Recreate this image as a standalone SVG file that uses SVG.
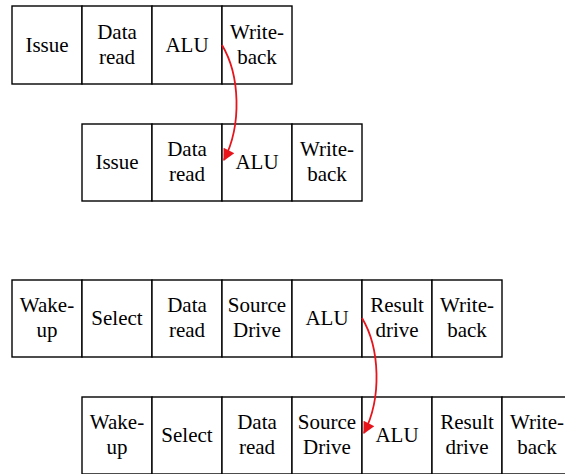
<svg xmlns="http://www.w3.org/2000/svg" width="565" height="474" viewBox="0 0 565 474">
<style>
.b{fill:#fff;stroke:#000;stroke-width:1.4}
text{font-family:'Liberation Serif','Times New Roman',serif;font-size:21px;fill:#000;text-anchor:middle}
.a{fill:none;stroke:#e8141c;stroke-width:1.8}
</style>
<defs>
<marker id="ah" viewBox="0 0 10 10" refX="9" refY="5" markerWidth="14" markerHeight="12" orient="auto" markerUnits="userSpaceOnUse">
<path d="M0,0 L10,5 L0,10 z" fill="#e8141c"/>
</marker>
</defs>
<rect width="565" height="474" fill="#fff"/>
<g id="row1">
<g id="r1-issue"><rect class="b" x="12" y="6" width="70" height="78"/><text x="47" y="52">Issue</text></g>
<g id="r1-dataread"><rect class="b" x="82" y="6" width="70" height="78"/><text x="117" y="38.5">Data</text><text x="117" y="64">read</text></g>
<g id="r1-alu"><rect class="b" x="152" y="6" width="70" height="78"/><text x="187" y="52">ALU</text></g>
<g id="r1-writeback"><rect class="b" x="222" y="6" width="70" height="78"/><text x="257" y="38.5">Write-</text><text x="257" y="64">back</text></g>
</g>
<g id="row2">
<g id="r2-issue"><rect class="b" x="82" y="124" width="70" height="77"/><text x="117" y="169">Issue</text></g>
<g id="r2-dataread"><rect class="b" x="152" y="124" width="70" height="77"/><text x="187" y="156">Data</text><text x="187" y="181">read</text></g>
<g id="r2-alu"><rect class="b" x="222" y="124" width="70" height="77"/><text x="257" y="169">ALU</text></g>
<g id="r2-writeback"><rect class="b" x="292" y="124" width="70" height="77"/><text x="327" y="156">Write-</text><text x="327" y="181">back</text></g>
</g>
<g id="row3">
<g id="r3-wakeup"><rect class="b" x="12" y="280" width="70" height="77"/><text x="47" y="312">Wake-</text><text x="47" y="337">up</text></g>
<g id="r3-select"><rect class="b" x="82" y="280" width="70" height="77"/><text x="117" y="325">Select</text></g>
<g id="r3-dataread"><rect class="b" x="152" y="280" width="70" height="77"/><text x="187" y="312">Data</text><text x="187" y="337">read</text></g>
<g id="r3-sourcedrive"><rect class="b" x="222" y="280" width="70" height="77"/><text x="257" y="312">Source</text><text x="257" y="337">Drive</text></g>
<g id="r3-alu"><rect class="b" x="292" y="280" width="70" height="77"/><text x="327" y="325">ALU</text></g>
<g id="r3-resultdrive"><rect class="b" x="362" y="280" width="70" height="77"/><text x="397" y="312">Result</text><text x="397" y="337">drive</text></g>
<g id="r3-writeback"><rect class="b" x="432" y="280" width="70" height="77"/><text x="467" y="312">Write-</text><text x="467" y="337">back</text></g>
</g>
<g id="row4">
<g id="r4-wakeup"><rect class="b" x="82" y="397" width="70" height="77"/><text x="117" y="429">Wake-</text><text x="117" y="454">up</text></g>
<g id="r4-select"><rect class="b" x="152" y="397" width="70" height="77"/><text x="187" y="442">Select</text></g>
<g id="r4-dataread"><rect class="b" x="222" y="397" width="70" height="77"/><text x="257" y="429">Data</text><text x="257" y="454">read</text></g>
<g id="r4-sourcedrive"><rect class="b" x="292" y="397" width="70" height="77"/><text x="327" y="429">Source</text><text x="327" y="454">Drive</text></g>
<g id="r4-alu"><rect class="b" x="362" y="397" width="70" height="77"/><text x="397" y="442">ALU</text></g>
<g id="r4-resultdrive"><rect class="b" x="432" y="397" width="70" height="77"/><text x="467" y="429">Result</text><text x="467" y="454">drive</text></g>
<g id="r4-writeback"><rect class="b" x="502" y="397" width="70" height="77"/><text x="537" y="429">Write-</text><text x="537" y="454">back</text></g>
</g>
<g id="connectors">
<path class="a" d="M222,45 C240,75 242,125 224,160" marker-end="url(#ah)"/>
<path class="a" d="M362,318 C380,348 382,398 364,433" marker-end="url(#ah)"/>
</g>
</svg>
